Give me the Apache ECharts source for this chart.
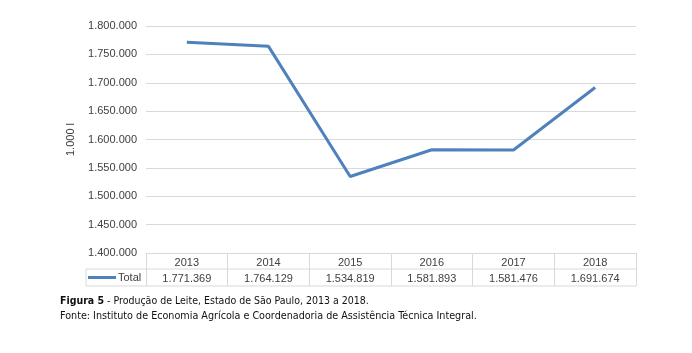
<!DOCTYPE html>
<html>
<head>
<meta charset="utf-8">
<script src="https://cdn.jsdelivr.net/npm/echarts@6/dist/echarts.min.js"></script>
<style>
  html, body { margin: 0; padding: 0; background: #fff; }
  #chart { width: 692px; height: 353px; }
</style>
</head>
<body>
<div id="chart"></div>
<script>
const years = ['2013', '2014', '2015', '2016', '2017', '2018'];
const totals = [1771369, 1764129, 1534819, 1581893, 1581476, 1691674];
const yMin = 1400000;
const yMax = 1800000;
const yStep = 50000;
const seriesName = 'Total';
const unitLabel = '1.000 l';
const captionBold = 'Figura 5';
const captionRest = ' - Produção de Leite, Estado de São Paulo, 2013 a 2018.';
const sourceLine = 'Fonte: Instituto de Economia Agrícola e Coordenadoria de Assistência Técnica Integral.';

// pt-BR style thousands separator
function fmt(v) {
  return String(v).replace(/\B(?=(\d{3})+(?!\d))/g, '.');
}

const chart = echarts.init(document.getElementById('chart'));
const txt = '#404040';
const border = '#d9d9d9';
const font = 'Liberation Sans';
const capFont = 'DejaVu Sans Condensed';

const option = {
  animation: false,
  textStyle: { fontFamily: font },
  grid: { left: 146, right: 56, top: 26, bottom: 100 },
  legend: {
    data: [{ name: seriesName, icon: 'rect' }],
    left: 88,
    top: 272,
    itemWidth: 28,
    itemHeight: 3,
    itemGap: 0,
    padding: 0,
    textStyle: { color: txt, fontSize: 11, fontFamily: font, padding: [0, 0, 0, -3] }
  },
  xAxis: [
    {
      type: 'category',
      data: years,
      position: 'bottom',
      axisLine: { lineStyle: { color: border } },
      axisTick: { show: true, length: 33, lineStyle: { color: border } },
      axisLabel: { color: txt, fontSize: 11, margin: 4 }
    },
    {
      type: 'category',
      data: years,
      position: 'bottom',
      offset: 16,
      axisLine: { show: false },
      axisTick: { show: false },
      axisLabel: {
        color: txt, fontSize: 11, margin: 4,
        formatter: (v, i) => fmt(totals[i])
      }
    }
  ],
  yAxis: {
    type: 'value',
    min: yMin,
    max: yMax,
    interval: yStep,
    name: unitLabel,
    nameLocation: 'middle',
    nameRotate: 90,
    nameGap: 70,
    nameTextStyle: { color: txt, fontSize: 11 },
    axisLine: { show: false },
    axisTick: { show: false },
    axisLabel: { color: txt, fontSize: 11, margin: 9, formatter: v => fmt(v) },
    splitLine: { lineStyle: { color: border } }
  },
  series: [
    {
      name: seriesName,
      type: 'line',
      data: totals,
      symbol: 'none',
      lineStyle: { color: '#4f81bd', width: 3 },
      itemStyle: { color: '#4f81bd' }
    }
  ],
  graphic: [
    // data table frame
    { type: 'line', shape: { x1: 86, y1: 269, x2: 636, y2: 269 }, style: { stroke: border, lineWidth: 1 } },
    { type: 'line', shape: { x1: 86, y1: 286, x2: 636, y2: 286 }, style: { stroke: border, lineWidth: 1 } },
    { type: 'line', shape: { x1: 86, y1: 269, x2: 86, y2: 286 }, style: { stroke: border, lineWidth: 1 } },
    {
      type: 'text', left: 60, top: 296,
      style: {
        rich: {
          b: { fontWeight: 'bold', fontFamily: capFont, fontSize: 10.5, fill: '#111' },
          n: { fontFamily: capFont, fontSize: 10.5, fill: '#111' }
        },
        text: '{b|' + captionBold + '}{n|' + captionRest + '}'
      }
    },
    {
      type: 'text', left: 60, top: 311,
      style: { text: sourceLine, fontFamily: capFont, fontSize: 10.7, fill: '#111' }
    }
  ]
};

chart.setOption(option);
</script>
</body>
</html>
